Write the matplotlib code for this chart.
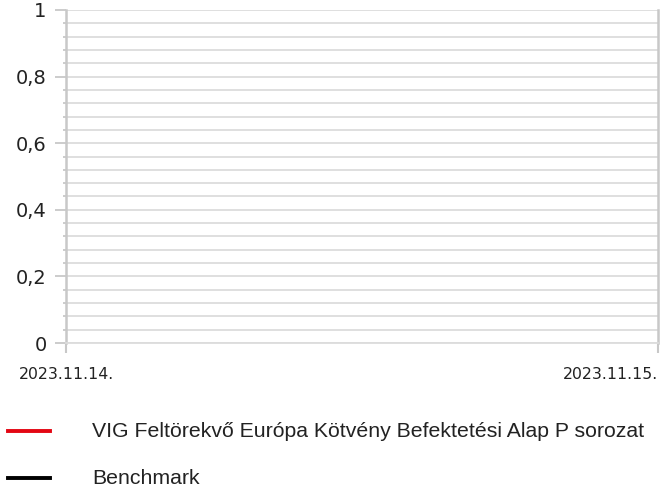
import matplotlib
matplotlib.use("Agg")
import matplotlib.pyplot as plt
from matplotlib.lines import Line2D
from matplotlib.ticker import MultipleLocator, FuncFormatter

# chart data (the reference shows no plotted values)
dates = ["2023.11.14.", "2023.11.15."]
fund_values = [None, None]
bench_values = [None, None]
series_names = [
    "VIG Feltörekvő Európa Kötvény Befektetési Alap P sorozat",
    "Benchmark",
]
series_colors = ["#e30613", "#000000"]

axis_gray = "#c8c8c8"
grid_gray = "#dcdcdc"

W, H = 671, 490
fig = plt.figure(figsize=(W / 100, H / 100), dpi=100)
ax = fig.add_axes([66 / W, (H - 343) / H, 592 / W, 333 / H])

x = list(range(len(dates)))
ax.plot(x, [float("nan") if v is None else v for v in fund_values], color=series_colors[0])
ax.plot(x, [float("nan") if v is None else v for v in bench_values], color=series_colors[1])

ax.set_xlim(0, len(dates) - 1)
ax.set_ylim(0, 1)

ax.yaxis.set_major_locator(MultipleLocator(0.2))
ax.yaxis.set_minor_locator(MultipleLocator(0.04))
ax.yaxis.set_major_formatter(FuncFormatter(lambda v, p: f"{v:g}".replace(".", ",")))
ax.grid(which="both", axis="y", color=grid_gray, linewidth=1.3)
ax.set_axisbelow(True)

ax.tick_params(axis="y", which="major", length=8, width=1.3, color=axis_gray,
               labelsize=14, pad=6, labelcolor="#222222")
ax.tick_params(axis="y", which="minor", length=2.5, width=1.3, color=axis_gray)

ax.set_xticks(x)
ax.set_xticklabels(dates, fontsize=11.3, color="#222222")
ax.tick_params(axis="x", length=7.5, width=1.5, color=axis_gray, pad=10)
ax.get_xticklabels()[-1].set_horizontalalignment("right")

for name in ["left", "right"]:
    ax.spines[name].set_color(axis_gray)
    ax.spines[name].set_linewidth(1.8)
ax.spines["top"].set_visible(False)
ax.spines["bottom"].set_color(grid_gray)
ax.spines["bottom"].set_linewidth(1.3)

# legend drawn below the axes
for i, (name, col) in enumerate(zip(series_names, series_colors)):
    yy = 1 - (431 + 47 * i) / H
    fig.add_artist(Line2D([8 / W, 50 / W], [yy, yy], color=col, linewidth=2.8,
                          transform=fig.transFigure))
    fig.text(92 / W, yy, name, fontsize=15.3, family="Liberation Sans",
             va="center", ha="left", color="#222222")

fig.savefig("out.png", dpi=100)
